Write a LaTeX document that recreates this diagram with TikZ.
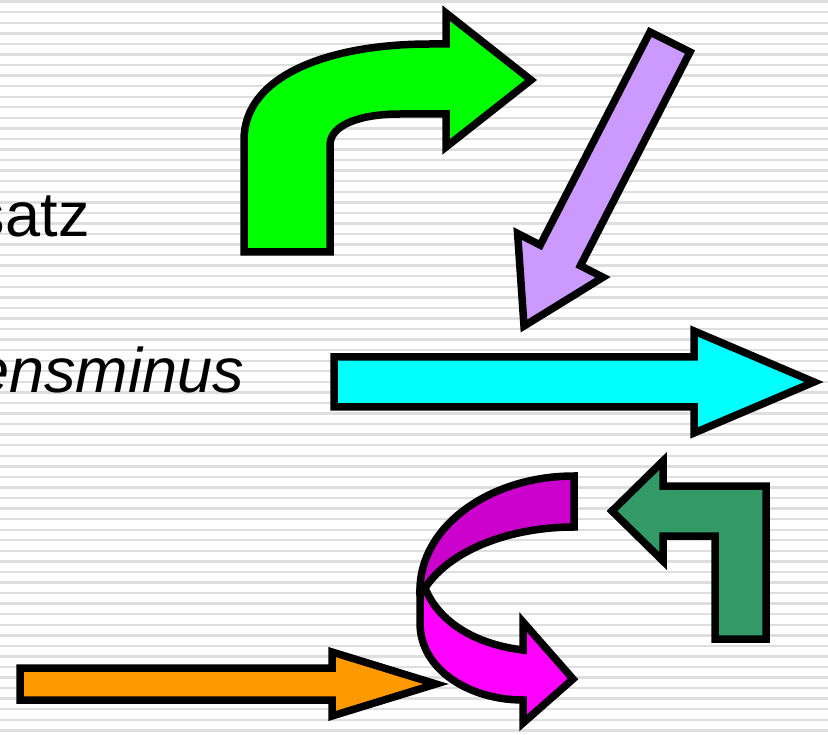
\documentclass[tikz,border=0pt]{standalone}
\usepackage{fontspec}
\setmainfont{Liberation Sans}
\definecolor{greenA}{RGB}{0,255,0}
\definecolor{purpleA}{RGB}{204,153,255}
\definecolor{cyanA}{RGB}{0,255,255}
\definecolor{orangeA}{RGB}{255,153,0}
\definecolor{seaA}{RGB}{51,153,102}
\definecolor{magA}{RGB}{255,0,255}
\definecolor{magD}{RGB}{204,0,204}
\definecolor{stripeA}{RGB}{222,222,222}
\begin{document}
\begin{tikzpicture}[x=1pt,y=-1pt,
  blockarrow/.style={draw=black,line width=7.5pt,line join=miter,miter limit=10},
  label/.style={inner sep=0pt,outer sep=0pt,font=\fontsize{63}{70}\selectfont}]
\useasboundingbox (0,0) rectangle (828,735);
\fill[white] (0,0) rectangle (828,735);
\foreach \k in {0,...,69}{
  \fill[stripeA] (0,{0.5+10.56*\k}) rectangle (828,{2.9+10.56*\k});
}
% texts
\node[label,anchor=base east] (t1) at (89.5,237) {satz};
\node[label,anchor=base east] (t2) at (244,393) {\itshape ensminus};
% green bent arrow
\draw[blockarrow,fill=greenA] (244,252) -- (244,140)
  .. controls (244,75) and (330,44) .. (430,44) -- (446,44) -- (446,13)
  -- (531,80) -- (446,147) -- (446,114) -- (400,114)
  .. controls (360,114) and (330,125) .. (330,145) -- (330,252) -- cycle;
% purple diagonal arrow
\draw[blockarrow,fill=purpleA] (650,32) -- (690,52) -- (580.4,265.7) -- (603,277.3)
  -- (524,326) -- (517.6,233.5) -- (540.2,245.1) -- cycle;
% cyan arrow
\draw[blockarrow,fill=cyanA] (334,357) -- (694,357) -- (694,331) -- (814,382)
  -- (694,433) -- (694,407) -- (334,407) -- cycle;
% orange arrow
\draw[blockarrow,fill=orangeA] (20,668) -- (332,668) -- (332,652) -- (436,684)
  -- (332,716) -- (332,700) -- (20,700) -- cycle;
% sea green bent arrow
\draw[blockarrow,fill=seaA] (612,511) -- (663,461) -- (663,486) -- (766,486)
  -- (766,639) -- (715,639) -- (715,536) -- (663,536) -- (663,561) -- cycle;
% magenta u-turn arrow: back band
\draw[blockarrow,fill=magD] (574,476) .. controls (489,476) and (420,527) .. (420,590)
  -- (425,588) .. controls (450,550) and (510,527) .. (574,527) -- cycle;
% front band with head
\draw[blockarrow,fill=magA] (425,588) .. controls (440,625) and (480,645) .. (523,650)
  -- (523,622) -- (573,679) -- (523,723) -- (523,700)
  .. controls (470,700) and (420,670) .. (420,623) -- (420,590) -- cycle;
\end{tikzpicture}
\end{document}
